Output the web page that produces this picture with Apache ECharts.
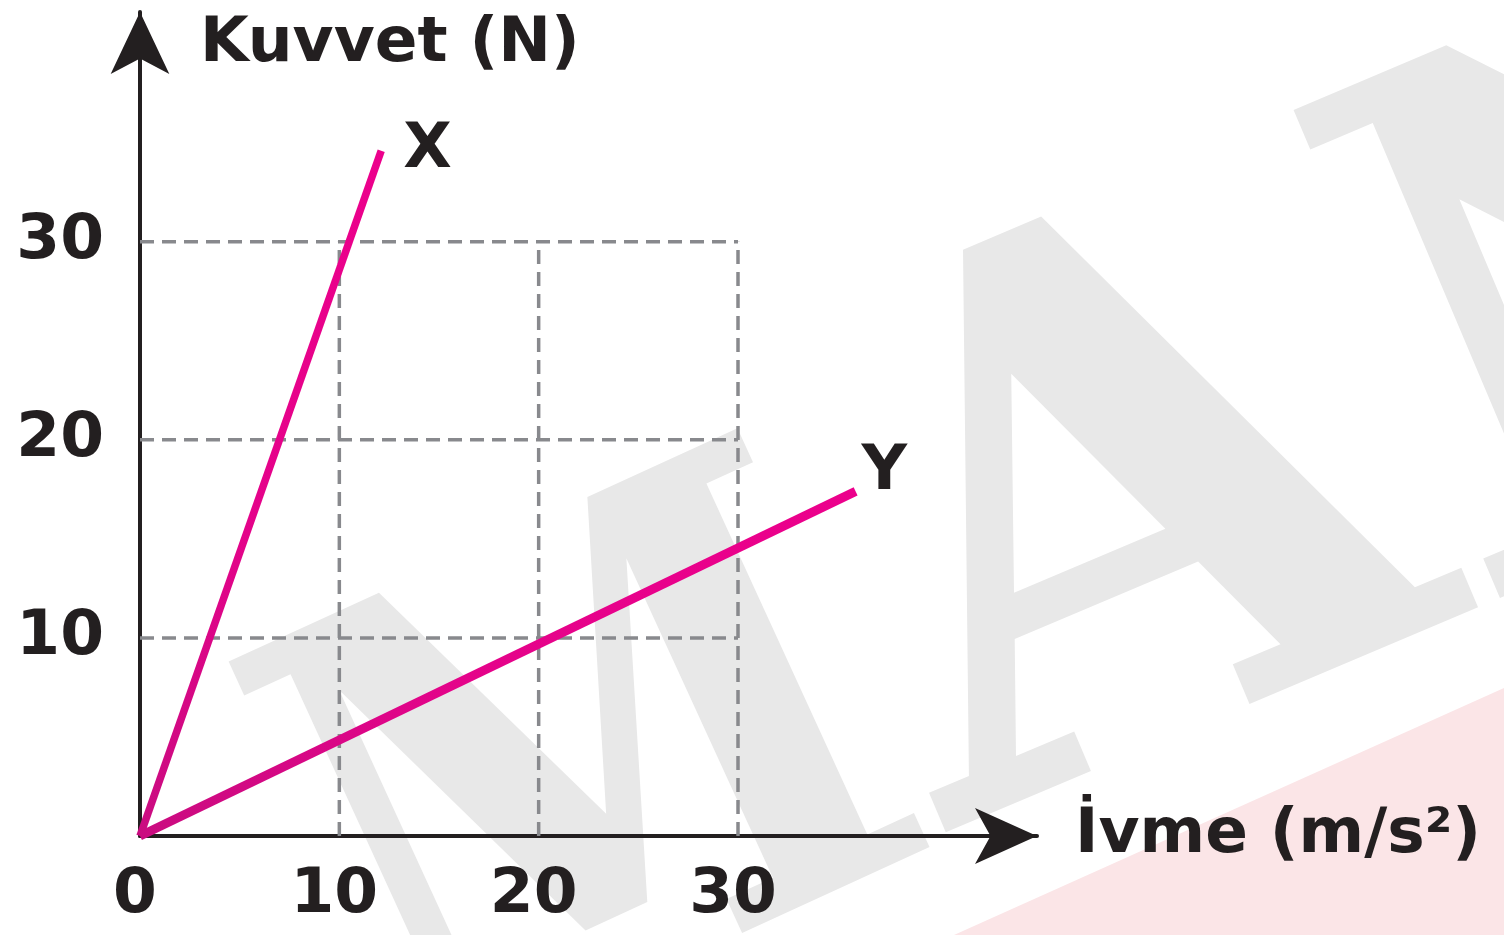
<!DOCTYPE html>
<html>
<head>
<meta charset="utf-8">
<title>Kuvvet - İvme</title>
<script src="https://cdn.jsdelivr.net/npm/echarts@6/dist/echarts.min.js"></script>
<style>
  html, body { margin: 0; padding: 0; background: #fff; }
  #chart { width: 1504px; height: 935px; }
</style>
</head>
<body>
<div id="chart"></div>
<script>
// eksen etiketleri
const xTicks = [0, 10, 20, 30];
const yTicks = [10, 20, 30];
// kesikli yardımcı çizgiler (0..30 kutusu)
const guideVals = [10, 20, 30];
const guideEnd = 30;
// doğrular: [ivme, kuvvet]
const lineNames = ['X', 'Y'];
const lineX = [[0, 0], [12.1, 34.6]];
const lineY = [[0, 0], [35.9, 17.4]];

const FONT = 'DejaVu Sans';
const FS = 63;
const INK = '#231f20';

const chart = echarts.init(document.getElementById('chart'));

// kesikli çizgiler
function guideSeries() {
  let list = [];
  guideVals.forEach(v => {
    list.push([[v, 0], [v, guideEnd]]);
    list.push([[0, v], [guideEnd, v]]);
  });
  return list.map((d, i) => ({
    type: 'line',
    name: 'guide' + i,
    data: d,
    symbol: 'none',
    silent: true,
    z: 1,
    lineStyle: { color: '#88898d', width: 3.5, type: [14, 8] }
  }));
}

function pinkGradient() {
  return new echarts.graphic.LinearGradient(0, 1, 1, 0, [
    { offset: 0, color: '#c90c80' },
    { offset: 0.45, color: '#e4038a' },
    { offset: 1, color: '#ec008c' }
  ]);
}

function mainSeries(name, data, width, dist, off) {
  return {
    type: 'line',
    name: name,
    data: data,
    symbol: 'none',
    z: 5,
    lineStyle: { color: pinkGradient(), width: width, cap: 'butt' },
    endLabel: {
      show: true,
      formatter: '{a}',
      distance: dist,
      offset: off,
      color: INK,
      fontFamily: FONT,
      fontWeight: 'bold',
      fontSize: FS
    }
  };
}

// arka plandaki soluk filigran harfleri
function mark(text, x, y, rot, size, sx) {
  return {
    type: 'text',
    z: -19,
    silent: true,
    x: x,
    y: y,
    rotation: rot,
    scaleX: sx,
    style: {
      text: text,
      fill: '#e8e8e8',
      font: 'bold ' + size + 'px "DejaVu Serif"',
      align: 'left',
      verticalAlign: 'bottom'
    }
  };
}

const option = {
  backgroundColor: '#ffffff',
  animation: false,
  graphic: {
    elements: [
      {
        type: 'polygon',
        z: -20,
        silent: true,
        shape: { points: [[954, 935], [1504, 688], [1504, 935]] },
        style: { fill: '#fbe5e7' }
      },
      mark('M', 463, 1228, 0.43, 632, 0.87),
      mark('AN', 1019, 991, 0.4, 727, 1)
    ]
  },
  grid: { left: 140, top: 12, right: 467, bottom: 99 },
  xAxis: {
    type: 'value',
    min: 0,
    max: 45,
    interval: 10,
    name: 'İvme (m/s²)',
    nameLocation: 'end',
    nameGap: 38,
    nameTextStyle: { color: INK, fontFamily: FONT, fontWeight: 'bold', fontSize: FS, align: 'left', verticalAlign: 'middle' },
    axisLine: {
      lineStyle: { color: INK, width: 4 },
      symbol: ['none', 'arrow'],
      symbolSize: [42, 62]
    },
    axisTick: { show: false },
    splitLine: { show: false },
    axisLabel: {
      margin: 28,
      color: INK,
      fontFamily: FONT,
      fontWeight: 'bold',
      fontSize: FS,
      padding: [0, 10, 0, 0],
      formatter: v => (xTicks.includes(v) ? String(v) : '')
    }
  },
  yAxis: {
    type: 'value',
    min: 0,
    max: 41.6,
    interval: 10,
    name: 'Kuvvet (N)',
    nameLocation: 'end',
    nameGap: -33,
    nameTextStyle: { color: INK, fontFamily: FONT, fontWeight: 'bold', fontSize: FS, align: 'left', verticalAlign: 'middle', padding: [0, 0, 0, 60] },
    axisLine: {
      lineStyle: { color: INK, width: 4 },
      symbol: ['none', 'arrow'],
      symbolSize: [44, 62]
    },
    axisTick: { show: false },
    splitLine: { show: false },
    axisLabel: {
      margin: 36,
      color: INK,
      fontFamily: FONT,
      fontWeight: 'bold',
      fontSize: FS,
      formatter: v => (yTicks.includes(v) ? String(v) : '')
    }
  },
  series: guideSeries().concat([
    mainSeries(lineNames[0], lineX, 7.5, 22, [0, 0]),
    mainSeries(lineNames[1], lineY, 9, 6, [0, -19])
  ])
};

chart.setOption(option);
</script>
</body>
</html>
